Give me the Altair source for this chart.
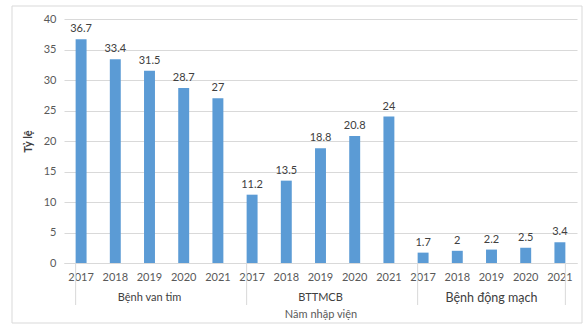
import altair as alt
import pandas as pd

groups = ["Bệnh van tim"] * 5 + ["BTTMCB"] * 5 + ["Bệnh động mạch"] * 5
years = ["2017", "2018", "2019", "2020", "2021"] * 3
values = [36.7, 33.4, 31.5, 28.7, 27, 11.2, 13.5, 18.8, 20.8, 24, 1.7, 2, 2.2, 2.5, 3.4]
labels = ["36.7", "33.4", "31.5", "28.7", "27", "11.2", "13.5", "18.8", "20.8", "24",
          "1.7", "2", "2.2", "2.5", "3.4"]
y_ticks = [0, 5, 10, 15, 20, 25, 30, 35, 40]
group_names = ["Bệnh van tim", "BTTMCB", "Bệnh động mạch"]
group_label_sizes = [11, 11, 12.5]

keys = [f"{g}|{y}" for g, y in zip(groups, years)]
df = pd.DataFrame({"key": keys, "group": groups, "year": years, "value": values, "label": labels})

FONT = "Lato"
GRID = "#d9d9d9"
TXT = "#595959"
W, H = 513, 244

xscale = alt.Scale(domain=keys, paddingInner=0.68, paddingOuter=0.34)
yscale = alt.Scale(domain=[0, 40], nice=False)
xaxis = alt.Axis(
    labelExpr="split(datum.value, '|')[1]", labelAngle=0, ticks=False,
    domainColor=GRID, labelColor=TXT, labelFont=FONT, labelFontSize=11, labelPadding=8,
    title="Năm nhập viện", titleFont=FONT, titleFontSize=11, titleFontWeight="normal",
    titleColor=TXT, titleY=51, titleBaseline="middle",
)
yaxis = alt.Axis(values=y_ticks, labelOverlap=False, domain=False, ticks=False,
                 gridColor=GRID, labelColor=TXT, labelFont=FONT, labelFontSize=11,
                 labelPadding=8, title="Tỷ lệ", titleFont=FONT, titleFontSize=11,
                 titleFontWeight="bold", titleColor="#404040", titleX=-31)

base = alt.Chart(df)

bars = base.mark_bar(color="#5B9BD5").encode(
    x=alt.X("key:N", scale=xscale, axis=xaxis, sort=keys),
    y=alt.Y("value:Q", scale=yscale, axis=yaxis),
)

text = base.mark_text(baseline="bottom", dy=-5, font=FONT, fontSize=11, color="#404040").encode(
    x=alt.X("key:N", scale=xscale, sort=keys, axis=xaxis),
    y=alt.Y("value:Q", scale=yscale, axis=yaxis),
    text="label:N",
)

gdf = pd.DataFrame({
    "group": group_names,
    "mid": [f"{g}|2019" for g in group_names],
    "first": [f"{g}|2017" for g in group_names],
    "size": group_label_sizes,
})
glabels = alt.Chart(gdf).mark_text(baseline="middle", font=FONT, color="#404040").encode(
    x=alt.X("mid:N", scale=xscale, sort=keys, axis=xaxis, title="Năm nhập viện"),
    y=alt.value(H + 35),
    text="group:N",
    size=alt.Size("size:Q", scale=None, legend=None),
)

sep = alt.Chart(gdf).mark_rule(color=GRID, strokeWidth=1).encode(
    x=alt.X("first:N", scale=xscale, sort=keys, bandPosition=0, axis=xaxis, title="Năm nhập viện"),
    y=alt.value(H), y2=alt.value(H + 42),
)
last = alt.Chart(pd.DataFrame({"k": [keys[-1]]})).mark_rule(color=GRID, strokeWidth=1).encode(
    x=alt.X("k:N", scale=xscale, sort=keys, bandPosition=1, axis=xaxis, title="Năm nhập viện"),
    y=alt.value(H), y2=alt.value(H + 42),
)

frame = alt.Chart(pd.DataFrame({"f": [0]})).mark_rect(fill=None, stroke=GRID, strokeWidth=1).encode(
    x=alt.value(-52), x2=alt.value(518), y=alt.value(-13), y2=alt.value(304),
)

chart = alt.layer(frame, bars, text, sep, last, glabels).properties(
    width=W, height=H,
    autosize=alt.AutoSizeParams(type="none"),
    padding={"left": 64, "top": 19, "right": 8, "bottom": 68},
    background="white",
).configure_view(stroke=None)

chart.save("out.html", embed_options={"renderer": "svg", "actions": False})
